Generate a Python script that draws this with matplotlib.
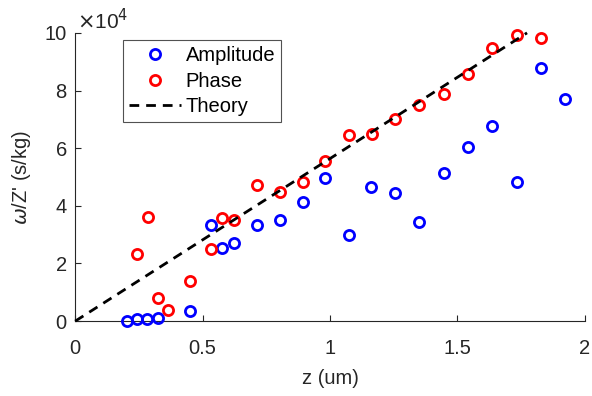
import matplotlib.pyplot as plt

plt.rcParams['font.family'] = ['Liberation Sans', 'DejaVu Sans']

amp_z = [0.202, 0.242, 0.283, 0.324, 0.449, 0.533, 0.577, 0.622, 0.714, 0.802, 0.893,
         0.982, 1.073, 1.162, 1.256, 1.351, 1.446, 1.540, 1.635, 1.733, 1.827, 1.921]
amp_y = [0.02, 0.07, 0.08, 0.10, 0.35, 3.32, 2.55, 2.70, 3.32, 3.52, 4.12,
         4.98, 2.98, 4.65, 4.45, 3.43, 5.13, 6.04, 6.76, 4.81, 8.77, 7.72]

phase_z = [0.243, 0.285, 0.324, 0.363, 0.449, 0.533, 0.577, 0.622, 0.714, 0.802, 0.893,
           0.982, 1.073, 1.163, 1.256, 1.351, 1.446, 1.540, 1.635, 1.733, 1.827]
phase_y = [2.33, 3.63, 0.82, 0.40, 1.40, 2.50, 3.57, 3.50, 4.73, 4.47, 4.82,
           5.55, 6.45, 6.48, 7.02, 7.50, 7.87, 8.57, 9.47, 9.91, 9.82]

theory_z = [0, 1.773]
theory_y = [0, 10.0]

scale = 1e4

fig = plt.figure(figsize=(5.92, 3.96), dpi=100)
ax = fig.add_axes([0.127, 0.189, 0.861, 0.728])

ax.plot(amp_z, [v * scale for v in amp_y], 'o', mfc='none', mec=(0, 0, 1), mew=2.0,
        ms=7.3, label='Amplitude', clip_on=False, zorder=3)
ax.plot(phase_z, [v * scale for v in phase_y], 'o', mfc='none', mec=(1, 0, 0), mew=2.0,
        ms=7.3, label='Phase', clip_on=False, zorder=3)
ax.plot(theory_z, [v * scale for v in theory_y], '--', color='black', lw=2,
        dashes=(3.5, 2.5), label='Theory', clip_on=False, zorder=4)

ax.set_xlim(0, 2)
ax.set_ylim(0, 10 * scale)
ax.set_xticks([0, 0.5, 1, 1.5, 2])
ax.set_xticklabels(['0', '0.5', '1', '1.5', '2'])
ax.set_yticks([0, 2e4, 4e4, 6e4, 8e4, 10e4])
ax.set_yticklabels(['0', '2', '4', '6', '8', '10'])

gray = (0.15, 0.15, 0.15)
for s in ['top', 'right']:
    ax.spines[s].set_visible(False)
for s in ['left', 'bottom']:
    ax.spines[s].set_color(gray)
    ax.spines[s].set_linewidth(0.8)
ax.tick_params(direction='in', length=4, width=0.8, colors=gray, labelsize=14.5)
ax.tick_params(axis='x', pad=13)
ax.tick_params(axis='y', pad=6)

ax.text(0.003, 1.0, r'$\times$10$^4$', transform=ax.transAxes, fontsize=15,
        color=gray, ha='left', va='bottom')

ax.set_xlabel('z (um)', fontsize=14.5, color=gray, labelpad=8)
ax.set_ylabel("$\\omega$/Z' (s/kg)", fontsize=14.5, color=gray, labelpad=8)

leg = ax.legend(loc='upper left', bbox_to_anchor=(0.094, 0.975), fontsize=14.5,
                frameon=True, fancybox=False, edgecolor=gray, handlelength=2.6,
                borderpad=0.3, labelspacing=0.32, handletextpad=0.2, borderaxespad=0)
leg.get_frame().set_linewidth(0.8)
for t in leg.get_texts():
    t.set_color('black')

fig.savefig('out.png', dpi=100)
